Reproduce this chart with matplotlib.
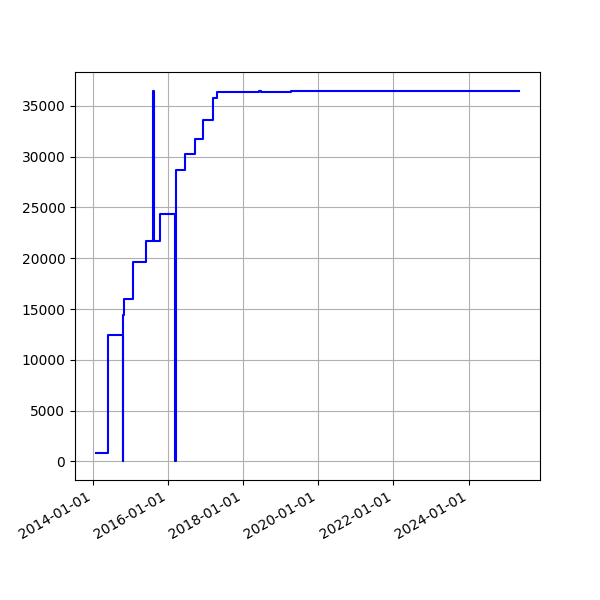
import matplotlib
matplotlib.use("Agg")
import matplotlib.pyplot as plt
import matplotlib.dates as mdates
import pandas as pd

dates = [
    "2014-02-04", "2014-05-27", "2014-10-19", "2014-10-26", "2014-11-06",
    "2015-01-26", "2015-06-03", "2015-08-12", "2015-08-16", "2015-10-16",
    "2016-03-15", "2016-03-22", "2016-06-17", "2016-09-19", "2016-12-12",
    "2017-03-16", "2017-04-27", "2018-06-01", "2018-06-25", "2018-09-20",
    "2018-09-25", "2019-04-07", "2023-05-15", "2025-05-03",
]
values = [
    800, 12400, 0, 14450, 16000,
    19600, 21700, 36500, 21700, 24400,
    0, 28700, 30300, 31700, 33600,
    35800, 36350, 36450, 36350, 36400,
    36350, 36420, 36460, 36460,
]

x = pd.to_datetime(dates)

fig, ax = plt.subplots(figsize=(6, 6), dpi=100)
ax.plot(x, values, color="blue", drawstyle="steps-post")
ax.grid(True)
ax.xaxis.set_major_locator(mdates.YearLocator(2, month=1, day=1))
ax.xaxis.set_major_formatter(mdates.DateFormatter("%Y-%m-%d"))
fig.autofmt_xdate()
fig.savefig("out.png", dpi=100)
